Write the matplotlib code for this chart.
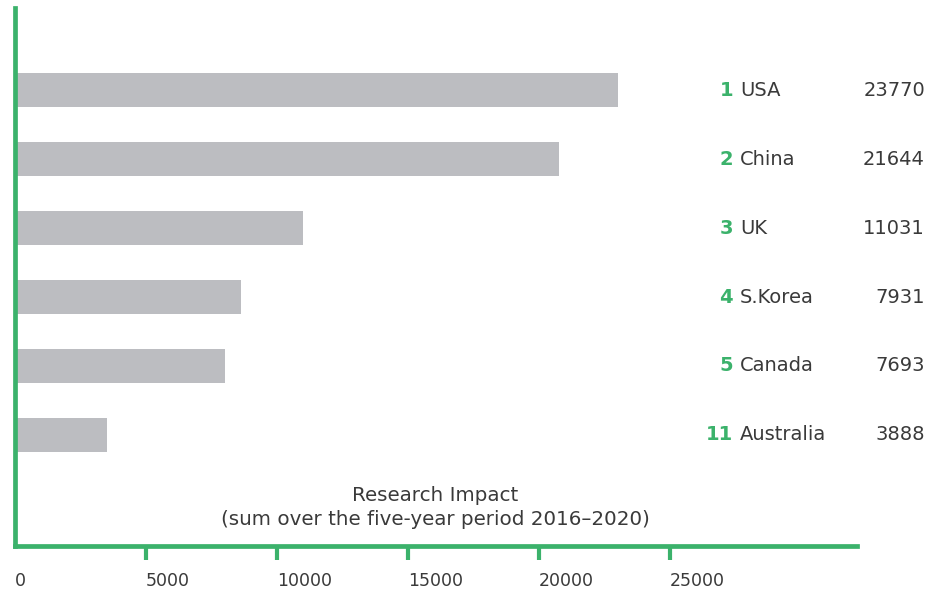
import matplotlib.pyplot as plt
import matplotlib.transforms as mtransforms

# data
countries = ['USA', 'China', 'UK', 'S.Korea', 'Canada', 'Australia']
ranks = ['1', '2', '3', '4', '5', '11']
impact_labels = ['23770', '21644', '11031', '7931', '7693', '3888']
# bar lengths as drawn (they do not follow the printed values exactly)
bar_lengths = [23000, 20750, 10990, 8620, 8010, 3510]
x_ticks = [0, 5000, 10000, 15000, 20000, 25000]

green = '#3bb26b'
bar_gray = '#bcbdc1'
text_col = '#3a3a3a'

plt.rcParams['font.family'] = ['DejaVu Sans']

fig = plt.figure(figsize=(9.31, 5.96), dpi=100)
ax = fig.add_axes([15 / 931, 50 / 596, 842 / 931, 538 / 596])

ypos = list(range(len(countries)))
ax.barh(ypos, bar_lengths, height=0.5, color=bar_gray, zorder=1)

ax.set_xlim(0, 842 / (131 / 5000))
ax.set_ylim(6.61, -1.19)

for side in ['top', 'right']:
    ax.spines[side].set_visible(False)
for side in ['left', 'bottom']:
    ax.spines[side].set_color(green)
    ax.spines[side].set_linewidth(3.4)
    ax.spines[side].set_zorder(3)

ax.set_yticks([])
ax.set_xticks(x_ticks)
ax.set_xticklabels([str(t) for t in x_ticks])
ax.tick_params(axis='x', direction='out', length=10, width=3, color=green,
               pad=9, labelsize=12.5, labelcolor=text_col)
for lab in ax.get_xticklabels():
    lab.set_horizontalalignment('left')
    lab.set_x(lab.get_position()[0])
ax.xaxis.get_major_ticks()[0].tick1line.set_visible(False)

# ranking table on the right
trans = mtransforms.blended_transform_factory(fig.transFigure, ax.transData)
for y, r, c, v in zip(ypos, ranks, countries, impact_labels):
    ax.text(733 / 931, y, r, transform=trans, ha='right', va='center',
            fontsize=14, fontweight='bold', color=green, clip_on=False)
    ax.text(740 / 931, y, c, transform=trans, ha='left', va='center',
            fontsize=14, color=text_col, clip_on=False)
    ax.text(925 / 931, y, v, transform=trans, ha='right', va='center',
            fontsize=14, color=text_col, clip_on=False)

ax.text(0.499, 0.072, 'Research Impact\n(sum over the five-year period 2016\u20132020)',
        transform=ax.transAxes, ha='center', va='center', multialignment='center',
        fontsize=14.3, color=text_col, linespacing=1.35)

fig.savefig('out.png', dpi=100)
